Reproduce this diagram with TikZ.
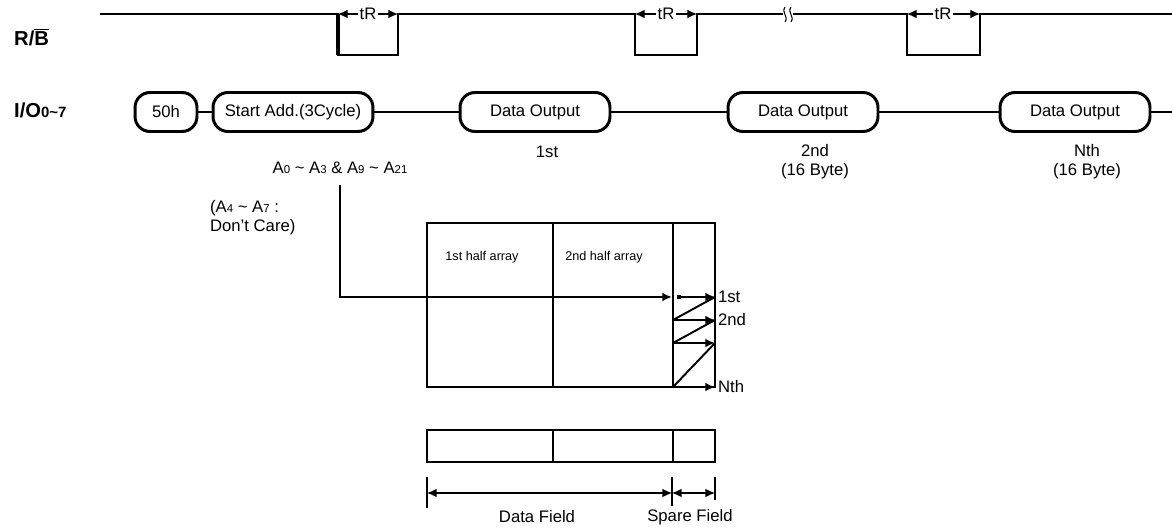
\documentclass[tikz,border=0pt]{standalone}
\usepackage{fontspec}
\setmainfont{Liberation Sans}
\usetikzlibrary{arrows.meta}
\newcommand{\subd}[1]{{\fontsize{6.5}{7}\selectfont #1}}
\begin{document}
\begin{tikzpicture}[x=0.02cm,y=-0.02cm,
  lbl/.style={font=\fontsize{9.5}{11}\selectfont, inner sep=1pt},
  tinylbl/.style={font=\fontsize{7.2}{8}\selectfont, inner sep=1pt},
  sig/.style={line width=1.3pt},
  bus/.style={draw, line width=1.7pt, rounded corners=0.3cm, minimum height=0.78cm,
    font=\fontsize{9.5}{11}\selectfont, inner sep=1pt},
  cell/.style={line width=1.3pt},
  headr/.style={-{Latex[length=5.5pt,width=5pt]}},
  dim/.style={line width=0.8pt, {Latex[length=5.5pt,width=5pt]}-{Latex[length=5.5pt,width=5pt]}}]
\useasboundingbox (0,0) rectangle (1172,527);

% signal names
\node[anchor=west, font=\bfseries\fontsize{11.5}{13}\selectfont] (rb) at (8,37) {R/$\overline{\mbox{B}}$};
\node[anchor=west, font=\bfseries\fontsize{11.5}{13}\selectfont] (io) at (8,110) {I/O{\fontsize{8.5}{9}\selectfont 0\textasciitilde7}};

% R/B waveform
\draw[sig] (100,14) -- (338,14) -- (338,55) -- (398,55) -- (398,14) -- (635,14) -- (635,55) -- (697,55) -- (697,14) -- (783,14);
\draw[sig] (793,14) -- (907,14) -- (907,55) -- (980,55) -- (980,14) -- (1172,14);
\draw[line width=1.8pt] (338,14) -- (338,55);
\draw[line width=0.6pt] (785,7) .. controls (781,13) and (789,16) .. (785,22);
\draw[line width=0.6pt] (791,7) .. controls (787,13) and (795,16) .. (791,22);

% tR marks
\node[lbl, fill=white] (tr1) at (368,14) {tR};
\node[lbl, fill=white] (tr2) at (666,14) {tR};
\node[lbl, fill=white] (tr3) at (943,14) {tR};
\draw[headr, line width=0.7pt] (tr1) -- (338,14);
\draw[headr, line width=0.7pt] (tr1) -- (398,14);
\draw[headr, line width=0.7pt] (tr2) -- (635,14);
\draw[headr, line width=0.7pt] (tr2) -- (697,14);
\draw[headr, line width=0.7pt] (tr3) -- (907,14);
\draw[headr, line width=0.7pt] (tr3) -- (980,14);

% I/O bus
\node[bus, minimum width=1.24cm] (cmd) at (166,112) {50h};
\node[bus, minimum width=3.2cm] (addr) at (293,112) {Start Add.(3Cycle)};
\node[bus, minimum width=3cm] (out1) at (535,112) {Data Output};
\node[bus, minimum width=3cm] (out2) at (803,112) {Data Output};
\node[bus, minimum width=3cm] (out3) at (1075,112) {Data Output};
\coordinate (ioend) at (1172,112);
\draw[sig] (cmd) -- (addr);
\draw[sig] (addr) -- (out1);
\draw[sig] (out1) -- (out2);
\draw[sig] (out2) -- (out3);
\draw[sig] (out3) -- (ioend);

\node[lbl, anchor=north] (n1) at (547,144) {1st};
\node[lbl, anchor=north, align=center] (n2) at (815,142) {2nd\\(16 Byte)};
\node[lbl, anchor=north, align=center] (n3) at (1087,142) {Nth\\(16 Byte)};

% address
\node[lbl] (alist) at (340,168) {A\subd{0} \textasciitilde{} A\subd{3} \& A\subd{9} \textasciitilde{} A\subd{21}};
\node[lbl, anchor=north west, align=left] (dc) at (208,198) {(A\subd{4} \textasciitilde{} A\subd{7} :\\Don't Care)};
\coordinate (abus) at (340,185);

% page array
\draw[cell] (427,223) rectangle (715,387);
\draw[cell] (553,223) -- (553,387);
\draw[cell] (673,223) -- (673,387);
\node[tinylbl] (half1) at (482,257) {1st half array};
\node[tinylbl] (half2) at (604,257) {2nd half array};
\draw[cell, headr] (abus) |- (672,297);

% spare area
\fill (677,295) rectangle (681,299);
\draw[line width=1pt, headr] (681,297) -- (715,297);
\draw[line width=1.1pt] (715,297) -- (673,320);
\draw[line width=1pt, headr] (673,320) -- (715,320);
\draw[line width=1.1pt] (715,320) -- (673,343);
\draw[line width=1.1pt, headr] (673,343) -- (715,343);
\draw[line width=1.1pt] (715,343) -- (673,387);
\draw[line width=1.1pt, headr] (673,387) -- (715,387);
\node[lbl, anchor=west] (r1) at (716,297) {1st};
\node[lbl, anchor=west] (r2) at (716,320) {2nd};
\node[lbl, anchor=west] (rn) at (716,387) {Nth};

% page layout
\draw[cell] (427,430) rectangle (715,462);
\draw[cell] (553,430) -- (553,462);
\draw[cell] (673,430) -- (673,462);
\coordinate (d0) at (427,493);
\coordinate (d1) at (672,493);
\coordinate (d2) at (715,493);
\draw[line width=1.2pt] (427,477) -- (427,508);
\draw[line width=0.6pt] (672,477) -- (672,506);
\draw[line width=0.6pt] (715,477) -- (715,500);
\draw[dim] (d0) -- (d1);
\draw[dim] (d1) -- (d2);
\node[lbl] (dfield) at (537,517) {Data Field};
\node[lbl] (sfield) at (690,517) {Spare Field};
\end{tikzpicture}
\end{document}
